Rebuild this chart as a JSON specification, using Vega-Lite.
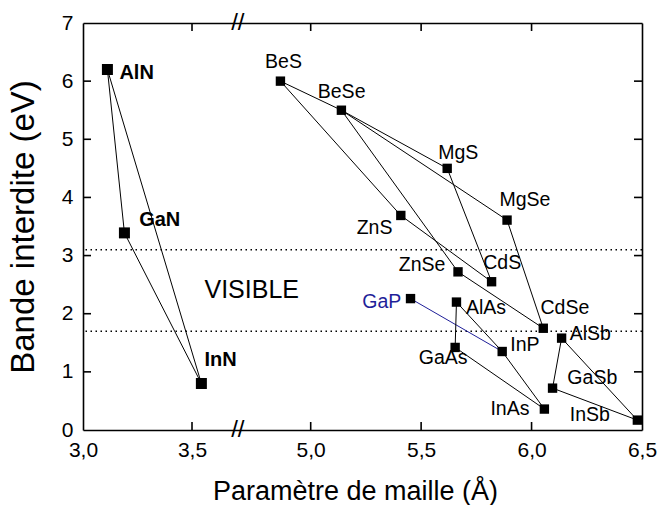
{
  "$schema": "https://vega.github.io/schema/vega-lite/v6.json",
  "width": 559,
  "height": 407,
  "autosize": {"type": "none"},
  "padding": {"left": 83, "top": 23, "right": 16, "bottom": 75},
  "background": "white",
  "config": {
    "font": "Liberation Sans",
    "view": {"stroke": null},
    "axis": {
      "grid": false,
      "domainColor": "black",
      "domainWidth": 1.6,
      "labelColor": "black",
      "labelFont": "Liberation Sans",
      "labelFontSize": 21,
      "titleColor": "black",
      "titleFont": "Liberation Sans",
      "titleFontWeight": "normal"
    }
  },
  "datasets": {
    "points": [
      {"name": "AlN", "a": 3.112, "eg": 6.2, "grp": "nitride"},
      {"name": "GaN", "a": 3.19, "eg": 3.39, "grp": "nitride"},
      {"name": "InN", "a": 3.543, "eg": 0.8, "grp": "nitride"},
      {"name": "BeS", "a": 4.863, "eg": 6.0, "grp": "other"},
      {"name": "BeSe", "a": 5.139, "eg": 5.5, "grp": "other"},
      {"name": "MgS", "a": 5.618, "eg": 4.5, "grp": "other"},
      {"name": "MgSe", "a": 5.889, "eg": 3.61, "grp": "other"},
      {"name": "ZnS", "a": 5.408, "eg": 3.69, "grp": "other"},
      {"name": "ZnSe", "a": 5.667, "eg": 2.72, "grp": "other"},
      {"name": "CdS", "a": 5.819, "eg": 2.55, "grp": "other"},
      {"name": "GaP", "a": 5.452, "eg": 2.26, "grp": "other"},
      {"name": "AlAs", "a": 5.66, "eg": 2.2, "grp": "other"},
      {"name": "CdSe", "a": 6.053, "eg": 1.75, "grp": "other"},
      {"name": "AlSb", "a": 6.136, "eg": 1.58, "grp": "other"},
      {"name": "GaAs", "a": 5.654, "eg": 1.42, "grp": "other"},
      {"name": "InP", "a": 5.867, "eg": 1.35, "grp": "other"},
      {"name": "GaSb", "a": 6.095, "eg": 0.72, "grp": "other"},
      {"name": "InAs", "a": 6.058, "eg": 0.36, "grp": "other"},
      {"name": "InSb", "a": 6.479, "eg": 0.17, "grp": "other"}
    ],
    "labels": [
      {"name": "AlN", "lx": 3.246, "ly": 6.14, "grp": "nitride"},
      {"name": "GaN", "lx": 3.352, "ly": 3.61, "grp": "nitride"},
      {"name": "InN", "lx": 3.631, "ly": 1.2, "grp": "nitride"},
      {"name": "BeS", "lx": 4.877, "ly": 6.33, "grp": "other"},
      {"name": "BeSe", "lx": 5.14, "ly": 5.82, "grp": "other"},
      {"name": "MgS", "lx": 5.668, "ly": 4.76, "grp": "other"},
      {"name": "MgSe", "lx": 5.97, "ly": 3.96, "grp": "other"},
      {"name": "ZnS", "lx": 5.289, "ly": 3.48, "grp": "other"},
      {"name": "ZnSe", "lx": 5.504, "ly": 2.84, "grp": "other"},
      {"name": "CdS", "lx": 5.867, "ly": 2.87, "grp": "other"},
      {"name": "GaP", "lx": 5.322, "ly": 2.21, "grp": "other"},
      {"name": "AlAs", "lx": 5.794, "ly": 2.09, "grp": "other"},
      {"name": "CdSe", "lx": 6.151, "ly": 2.09, "grp": "other"},
      {"name": "AlSb", "lx": 6.266, "ly": 1.65, "grp": "other"},
      {"name": "GaAs", "lx": 5.6, "ly": 1.23, "grp": "other"},
      {"name": "InP", "lx": 5.97, "ly": 1.46, "grp": "other"},
      {"name": "GaSb", "lx": 6.275, "ly": 0.89, "grp": "other"},
      {"name": "InAs", "lx": 5.902, "ly": 0.36, "grp": "other"},
      {"name": "InSb", "lx": 6.264, "ly": 0.26, "grp": "other"}
    ],
    "edges": [
      {"edge": "AlN-GaN", "name": "AlN"}, {"edge": "AlN-GaN", "name": "GaN"},
      {"edge": "GaN-InN", "name": "GaN"}, {"edge": "GaN-InN", "name": "InN"},
      {"edge": "AlN-InN", "name": "AlN"}, {"edge": "AlN-InN", "name": "InN"},
      {"edge": "BeS-BeSe", "name": "BeS"}, {"edge": "BeS-BeSe", "name": "BeSe"},
      {"edge": "BeS-ZnS", "name": "BeS"}, {"edge": "BeS-ZnS", "name": "ZnS"},
      {"edge": "BeSe-MgS", "name": "BeSe"}, {"edge": "BeSe-MgS", "name": "MgS"},
      {"edge": "BeSe-MgSe", "name": "BeSe"}, {"edge": "BeSe-MgSe", "name": "MgSe"},
      {"edge": "BeSe-ZnSe", "name": "BeSe"}, {"edge": "BeSe-ZnSe", "name": "ZnSe"},
      {"edge": "ZnS-CdS", "name": "ZnS"}, {"edge": "ZnS-CdS", "name": "CdS"},
      {"edge": "MgS-CdS", "name": "MgS"}, {"edge": "MgS-CdS", "name": "CdS"},
      {"edge": "ZnSe-CdSe", "name": "ZnSe"}, {"edge": "ZnSe-CdSe", "name": "CdSe"},
      {"edge": "MgSe-CdSe", "name": "MgSe"}, {"edge": "MgSe-CdSe", "name": "CdSe"},
      {"edge": "GaP-InP", "name": "GaP"}, {"edge": "GaP-InP", "name": "InP"},
      {"edge": "AlAs-GaAs", "name": "AlAs"}, {"edge": "AlAs-GaAs", "name": "GaAs"},
      {"edge": "AlAs-InP", "name": "AlAs"}, {"edge": "AlAs-InP", "name": "InP"},
      {"edge": "InP-InAs", "name": "InP"}, {"edge": "InP-InAs", "name": "InAs"},
      {"edge": "GaAs-InAs", "name": "GaAs"}, {"edge": "GaAs-InAs", "name": "InAs"},
      {"edge": "AlSb-GaSb", "name": "AlSb"}, {"edge": "AlSb-GaSb", "name": "GaSb"},
      {"edge": "AlSb-InSb", "name": "AlSb"}, {"edge": "AlSb-InSb", "name": "InSb"},
      {"edge": "GaSb-InSb", "name": "GaSb"}, {"edge": "GaSb-InSb", "name": "InSb"}
    ],
    "bands": [{"eg": 3.1}, {"eg": 1.7}],
    "region": [{"text": "VISIBLE", "lx": 4.733, "ly": 2.41}],
    "breaks": [{"a": 4.67, "eg": 0}, {"a": 4.67, "eg": 7}],
    "xticks": [
      {"tx": 3.5, "side": "bottom", "edge": 0}, {"tx": 5.0, "side": "bottom", "edge": 0},
      {"tx": 5.5, "side": "bottom", "edge": 0}, {"tx": 6.0, "side": "bottom", "edge": 0},
      {"tx": 3.5, "side": "top", "edge": 7}, {"tx": 5.0, "side": "top", "edge": 7},
      {"tx": 5.5, "side": "top", "edge": 7}, {"tx": 6.0, "side": "top", "edge": 7}
    ],
    "yticks": [
      {"ty": 1, "side": "left", "edge": 3.0}, {"ty": 2, "side": "left", "edge": 3.0},
      {"ty": 3, "side": "left", "edge": 3.0}, {"ty": 4, "side": "left", "edge": 3.0},
      {"ty": 5, "side": "left", "edge": 3.0}, {"ty": 6, "side": "left", "edge": 3.0},
      {"ty": 1, "side": "right", "edge": 6.5}, {"ty": 2, "side": "right", "edge": 6.5},
      {"ty": 3, "side": "right", "edge": 6.5}, {"ty": 4, "side": "right", "edge": 6.5},
      {"ty": 5, "side": "right", "edge": 6.5}, {"ty": 6, "side": "right", "edge": 6.5}
    ]
  },
  "layer": [
    {
      "data": {"name": "bands"},
      "mark": {"type": "rule", "strokeDash": [1.5, 3.5], "strokeWidth": 1.5, "color": "black"},
      "encoding": {
        "y": {"field": "eg", "type": "quantitative", "scale": {"domain": [0, 7], "nice": false, "zero": false}, "axis": null}
      }
    },
    {
      "data": {"name": "edges"},
      "transform": [
        {"lookup": "name", "from": {"data": {"name": "points"}, "key": "name", "fields": ["a", "eg"]}}
      ],
      "mark": {"type": "line", "strokeWidth": 1},
      "encoding": {
        "x": {
          "field": "a", "type": "quantitative",
          "scale": {"type": "linear", "domain": [3.0, 3.705, 4.665, 6.5], "range": [0, 153.7, 153.7, 559], "nice": false, "zero": false},
          "axis": {
            "orient": "bottom",
            "values": [3.0, 3.5, 5.0, 5.5, 6.0, 6.5],
            "labelExpr": "replace(format(datum.value, '.1f'), '.', ',')",
            "ticks": false,
            "tickSize": 0,
            "labelPadding": 9,
            "labelFlush": false,
            "labelOverlap": false,
            "title": "Paramètre de maille (Å)",
            "titleFontSize": 27,
            "titleBaseline": "alphabetic",
            "titleY": 69,
            "titleX": 272
          }
        },
        "y": {
          "field": "eg", "type": "quantitative",
          "scale": {"domain": [0, 7], "nice": false, "zero": false},
          "axis": {
            "orient": "left",
            "values": [0, 1, 2, 3, 4, 5, 6, 7],
            "format": "d",
            "ticks": false,
            "tickSize": 0,
            "labelPadding": 10,
            "labelFlush": false,
            "labelOverlap": false,
            "title": "Bande interdite (eV)",
            "titleFontSize": 33,
            "titleBaseline": "alphabetic",
            "titleX": -50
          }
        },
        "detail": {"field": "edge"},
        "color": {"condition": {"test": "datum.edge === 'GaP-InP'", "value": "#1f1f99"}, "value": "black"}
      }
    },
    {
      "data": {"name": "points"},
      "mark": {"type": "point", "shape": "square", "filled": true, "color": "black", "opacity": 1},
      "encoding": {
        "x": {
          "field": "a", "type": "quantitative",
          "scale": {"type": "linear", "domain": [3.0, 3.705, 4.665, 6.5], "range": [0, 153.7, 153.7, 559], "nice": false, "zero": false},
          "axis": {"orient": "top", "values": [3.0, 3.5, 5.0, 5.5, 6.0, 6.5], "labels": false, "ticks": false, "tickSize": 0, "title": null}
        },
        "y": {
          "field": "eg", "type": "quantitative",
          "scale": {"domain": [0, 7], "nice": false, "zero": false},
          "axis": {"orient": "right", "values": [0, 1, 2, 3, 4, 5, 6, 7], "labels": false, "ticks": false, "tickSize": 0, "title": null}
        },
        "size": {"field": "grp", "type": "nominal", "scale": {"domain": ["nitride", "other"], "range": [121, 88]}, "legend": null}
      }
    },
    {
      "data": {"name": "xticks"},
      "transform": [{"filter": "datum.side === 'bottom'"}],
      "mark": {"type": "rule", "strokeWidth": 1.6, "color": "black", "y2Offset": -8},
      "encoding": {
        "x": {"field": "tx", "type": "quantitative", "axis": null},
        "y": {"field": "edge", "type": "quantitative", "axis": null},
        "y2": {"field": "edge"}
      }
    },
    {
      "data": {"name": "xticks"},
      "transform": [{"filter": "datum.side === 'top'"}],
      "mark": {"type": "rule", "strokeWidth": 1.6, "color": "black", "y2Offset": 8},
      "encoding": {
        "x": {"field": "tx", "type": "quantitative", "axis": null},
        "y": {"field": "edge", "type": "quantitative", "axis": null},
        "y2": {"field": "edge"}
      }
    },
    {
      "data": {"name": "yticks"},
      "transform": [{"filter": "datum.side === 'left'"}],
      "mark": {"type": "rule", "strokeWidth": 1.6, "color": "black", "x2Offset": 8},
      "encoding": {
        "y": {"field": "ty", "type": "quantitative", "axis": null},
        "x": {"field": "edge", "type": "quantitative", "axis": null},
        "x2": {"field": "edge"}
      }
    },
    {
      "data": {"name": "yticks"},
      "transform": [{"filter": "datum.side === 'right'"}],
      "mark": {"type": "rule", "strokeWidth": 1.6, "color": "black", "x2Offset": -8},
      "encoding": {
        "y": {"field": "ty", "type": "quantitative", "axis": null},
        "x": {"field": "edge", "type": "quantitative", "axis": null},
        "x2": {"field": "edge"}
      }
    },
    {
      "data": {"name": "labels"},
      "transform": [{"filter": "datum.grp === 'other'"}],
      "mark": {"type": "text", "fontSize": 19.5, "align": "center", "baseline": "middle", "font": "Liberation Sans"},
      "encoding": {
        "x": {"field": "lx", "type": "quantitative", "axis": null},
        "y": {"field": "ly", "type": "quantitative", "axis": null},
        "text": {"field": "name"},
        "color": {"condition": {"test": "datum.name === 'GaP'", "value": "#1f1f99"}, "value": "black"}
      }
    },
    {
      "data": {"name": "labels"},
      "transform": [{"filter": "datum.grp === 'nitride'"}],
      "mark": {"type": "text", "fontSize": 20, "fontWeight": "bold", "align": "center", "baseline": "middle", "font": "Liberation Sans", "color": "black"},
      "encoding": {
        "x": {"field": "lx", "type": "quantitative", "axis": null},
        "y": {"field": "ly", "type": "quantitative", "axis": null},
        "text": {"field": "name"}
      }
    },
    {
      "data": {"name": "region"},
      "mark": {"type": "text", "fontSize": 25, "align": "center", "baseline": "middle", "font": "Liberation Sans", "color": "black"},
      "encoding": {
        "x": {"field": "lx", "type": "quantitative", "axis": null},
        "y": {"field": "ly", "type": "quantitative", "axis": null},
        "text": {"field": "text"}
      }
    },
    {
      "data": {"name": "breaks"},
      "mark": {"type": "text", "fontSize": 24, "align": "center", "baseline": "middle", "font": "Liberation Sans", "color": "black"},
      "encoding": {
        "x": {"field": "a", "type": "quantitative", "axis": null},
        "y": {"field": "eg", "type": "quantitative", "axis": null},
        "text": {"value": "//"}
      }
    }
  ],
  "resolve": {"axis": {"x": "independent", "y": "independent"}}
}
